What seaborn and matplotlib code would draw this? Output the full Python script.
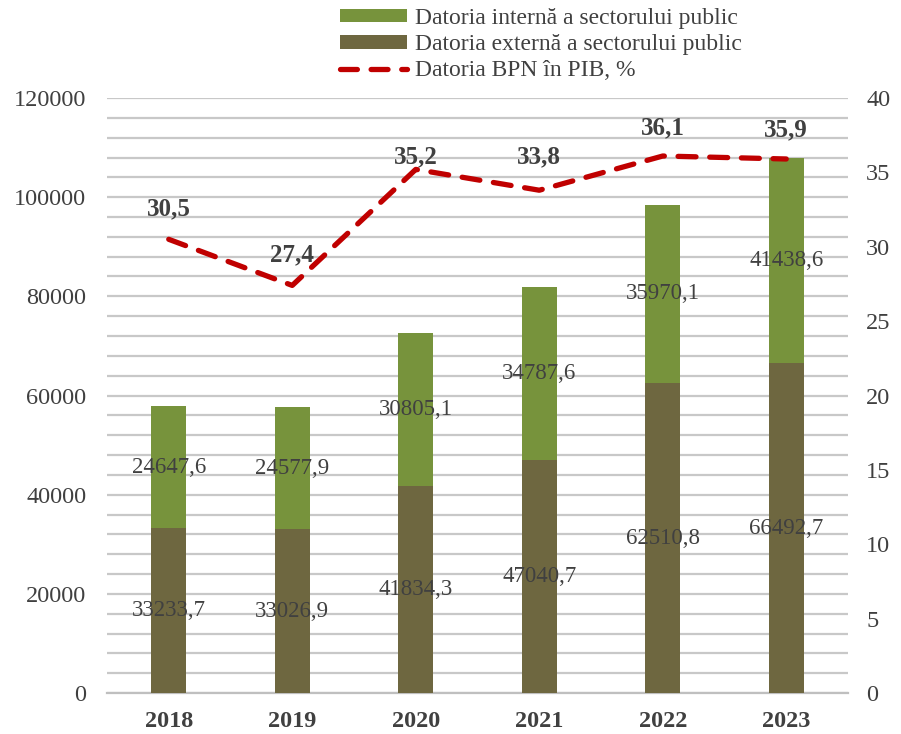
import numpy as np
import pandas as pd
import seaborn as sns
import matplotlib.pyplot as plt
from matplotlib.patches import Patch
from matplotlib.lines import Line2D
from matplotlib.ticker import MultipleLocator

years = ["2018", "2019", "2020", "2021", "2022", "2023"]
externa = [33233.7, 33026.9, 41834.3, 47040.7, 62510.8, 66492.7]
interna = [24647.6, 24577.9, 30805.1, 34787.6, 35970.1, 41438.6]
pib = [30.5, 27.4, 35.2, 33.8, 36.1, 35.9]
# vertical offset (points) of each line label above its marker
label_lift = [22, 22, 9, 24, 20, 21]

green = "#77933C"
brown = "#6E6740"
red = "#C00000"
txt = "#404040"

df = pd.DataFrame({"an": years, "ext": externa, "int": interna})
df["total"] = df["ext"] + df["int"]

sns.set_style("white")
plt.rcParams["font.family"] = ["Liberation Serif", "DejaVu Serif"]

fig = plt.figure(figsize=(9.01, 7.34), dpi=100)
ax = fig.add_axes([107 / 901, 1 - 693 / 734, 741 / 901, 595 / 734])

sns.barplot(data=df, x="an", y="total", color=green, width=0.28, saturation=1, ax=ax,
            zorder=3, linewidth=0)
sns.barplot(data=df, x="an", y="ext", color=brown, width=0.28, saturation=1, ax=ax,
            zorder=3, linewidth=0)

ax.set_xlim(-0.5, 5.5)
ax.set_ylim(0, 120000)
ax.yaxis.set_major_locator(MultipleLocator(20000))
ax.yaxis.set_minor_locator(MultipleLocator(4000))
ax.grid(True, axis="y", which="both", color="#C8C8C8", lw=1.6, zorder=0)
ax.set_axisbelow(True)
ax.set(xlabel="", ylabel="")
for s in ["top", "right", "left"]:
    ax.spines[s].set_visible(False)
ax.spines["bottom"].set_color("#BFBFBF")
ax.spines["bottom"].set_linewidth(1.6)
ax.tick_params(axis="y", which="both", length=0, labelsize=17.5, labelcolor=txt, pad=15)
ax.tick_params(axis="x", which="major", length=0, labelsize=17.5, labelcolor=txt, pad=13)
ax.set_xticks(np.arange(-0.5, 6, 1), minor=True)
ax.tick_params(axis="x", which="minor", length=7, color="#BFBFBF", width=1.6)
for lab in ax.get_xticklabels():
    lab.set_fontweight("bold")

for i, row in df.iterrows():
    ax.text(i, row["ext"] / 2, f"{row['ext']:.1f}".replace(".", ","), ha="center", va="center",
            fontsize=16.5, color=txt, zorder=5)
    ax.text(i, row["ext"] + row["int"] / 2, f"{row['int']:.1f}".replace(".", ","), ha="center",
            va="center", fontsize=16.5, color=txt, zorder=5)

ax2 = ax.twinx()
sns.lineplot(x=np.arange(len(years)), y=pib, ax=ax2, color=red, lw=3.8,
             dashes=False, zorder=6)
ln = ax2.lines[0]
ln.set_dashes((3.4, 2.6))
ln.set_dash_capstyle("round")
ax2.set_ylim(0, 40)
ax2.yaxis.set_major_locator(MultipleLocator(5))
ax2.tick_params(axis="y", length=0, labelsize=17.5, labelcolor=txt, pad=13)
for s in ["top", "right", "left", "bottom"]:
    ax2.spines[s].set_visible(False)
ax2.grid(False)
for i, v in enumerate(pib):
    ax2.annotate(f"{v:.1f}".replace(".", ","), (i, v), xytext=(0, label_lift[i]),
                 textcoords="offset points", ha="center", va="center",
                 fontsize=18, fontweight="bold", color=txt)

handles = [
    Patch(facecolor=green, edgecolor="none"),
    Patch(facecolor=brown, edgecolor="none"),
    Line2D([], [], color=red, lw=3.8, dashes=(3.2, 2.6), dash_capstyle="round"),
]
labels = ["Datoria internă a sectorului public", "Datoria externă a sectorului public",
          "Datoria BPN în PIB, %"]
leg = fig.legend(handles, labels, loc="upper left", bbox_to_anchor=(331 / 901, 1.002),
                 frameon=False, fontsize=17, handlelength=2.8, handleheight=0.5,
                 handletextpad=0.35, labelspacing=0.22, borderaxespad=0)
for t in leg.get_texts():
    t.set_color(txt)

fig.savefig("out.png", dpi=100)
